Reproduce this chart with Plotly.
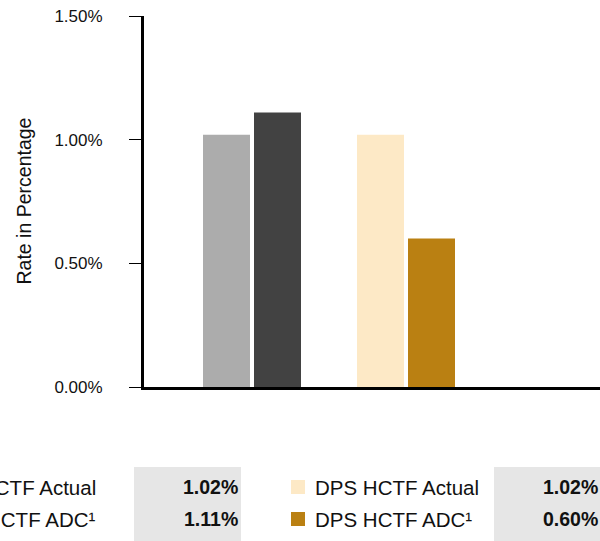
import plotly.graph_objects as go

# Categories and series values (rates as fractions)
groups = ["HCTF", "DPS HCTF"]
actual_rates = [0.0102, 0.0102]
adc_rates = [0.0111, 0.0060]
actual_colors = ["#acacac", "#fde9c6"]
adc_colors = ["#424242", "#ba8012"]
y_ticks = [0.0, 0.005, 0.010, 0.015]

# Summary table rows: label, value, swatch colour
left_rows = [("HCTF Actual", actual_rates[0]), ("HCTF ADC¹", adc_rates[0])]
right_rows = [("DPS HCTF Actual", actual_rates[1], actual_colors[1]),
              ("DPS HCTF ADC¹", adc_rates[1], adc_colors[1])]

W, H = 600, 541
L, R, T, B = 144, 600, 16, 387  # plot area in pixels

FONT = "Liberation Sans, Arial, sans-serif"


def px(x):
    return (x - L) / (R - L)


def py(y):
    return (B - y) / (B - T)


group_w = 154.0
bar_w = 47 / group_w

fig = go.Figure()
fig.add_trace(go.Bar(
    x=groups, y=actual_rates, marker=dict(color=actual_colors, line=dict(width=0)),
    width=bar_w, offset=-49 / group_w, name="Actual", showlegend=False,
))
fig.add_trace(go.Bar(
    x=groups, y=adc_rates, marker=dict(color=adc_colors, line=dict(width=0)),
    width=bar_w, offset=2 / group_w, name="ADC", showlegend=False,
))

shapes = []
annotations = []

# Grey value cells
for x0, x1 in [(134, 241), (494, 602)]:
    shapes.append(dict(type="rect", xref="paper", yref="paper",
                       x0=px(x0), x1=px(x1), y0=py(545), y1=py(467),
                       fillcolor="#e6e6e6", line=dict(width=0), layer="below"))

row_y = [487, 519]
LABEL_SIZE = 20.5
VALUE_SIZE = 19.5

for (label, val), y in zip(left_rows, row_y):
    annotations.append(dict(xref="paper", yref="paper", x=px(98), y=py(y),
                            xanchor="right", yanchor="middle", showarrow=False,
                            text=label, font=dict(family=FONT, size=LABEL_SIZE, color="#111")))
    annotations.append(dict(xref="paper", yref="paper", x=px(240), y=py(y),
                            xanchor="right", yanchor="middle", showarrow=False,
                            text=f"<b>{val * 100:.2f}%</b>",
                            font=dict(family=FONT, size=VALUE_SIZE, color="#111")))

for (label, val, col), y in zip(right_rows, row_y):
    shapes.append(dict(type="rect", xref="paper", yref="paper",
                       x0=px(291), x1=px(305), y0=py(y + 7), y1=py(y - 7),
                       fillcolor=col, line=dict(width=0)))
    annotations.append(dict(xref="paper", yref="paper", x=px(313), y=py(y),
                            xanchor="left", yanchor="middle", showarrow=False,
                            text=label, font=dict(family=FONT, size=LABEL_SIZE, color="#111")))
    annotations.append(dict(xref="paper", yref="paper", x=px(600), y=py(y),
                            xanchor="right", yanchor="middle", showarrow=False,
                            text=f"<b>{val * 100:.2f}%</b>",
                            font=dict(family=FONT, size=VALUE_SIZE, color="#111")))

# Vertical axis title
annotations.append(dict(xref="paper", yref="paper", x=px(23), y=0.5,
                        xanchor="center", yanchor="middle", showarrow=False,
                        textangle=-90, text="Rate in Percentage",
                        font=dict(family=FONT, size=19.5, color="#111")))

fig.update_layout(
    width=W, height=H,
    margin=dict(l=L, r=W - R, t=T, b=H - B, pad=0),
    paper_bgcolor="white", plot_bgcolor="white",
    barmode="overlay",
    shapes=shapes, annotations=annotations,
    xaxis=dict(type="category", range=[-(252 - L) / group_w, 1 + (R - 406) / group_w],
               showticklabels=False, ticks="", showgrid=False, zeroline=False,
               showline=True, linecolor="black", linewidth=3, fixedrange=True),
    yaxis=dict(range=[0, 0.015], tickvals=y_ticks, tickformat=".2%",
               ticks="outside", ticklen=12, tickwidth=1, tickcolor="black",
               ticklabelstandoff=23,
               tickfont=dict(family=FONT, size=17, color="#111"),
               showgrid=False, zeroline=False,
               showline=True, linecolor="black", linewidth=3, fixedrange=True),
)

fig.write_html("out.html", config={"displayModeBar": False})
